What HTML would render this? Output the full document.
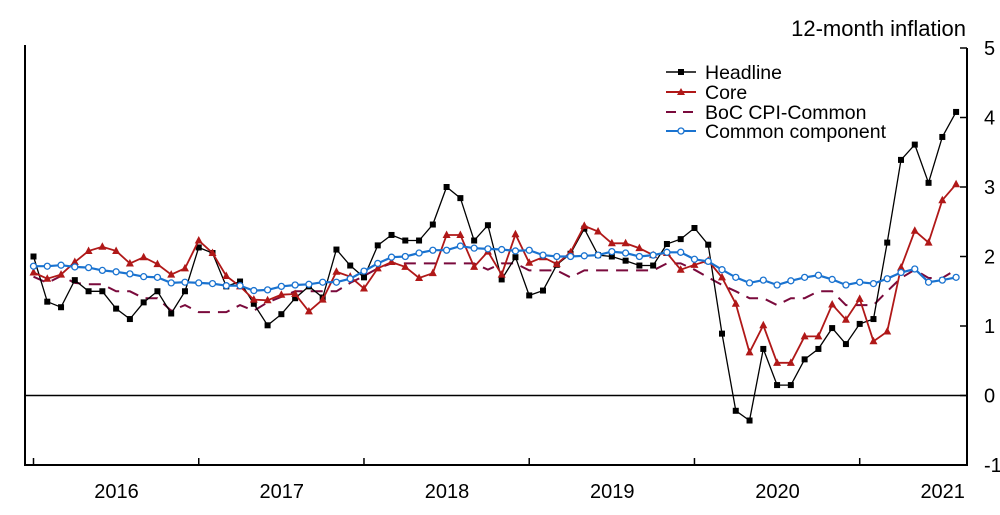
<!DOCTYPE html>
<html><head><meta charset="utf-8"><style>
html,body{margin:0;padding:0;background:#fff;}
svg{display:block;font-family:"Liberation Sans",Arial,sans-serif;}
</style></head><body>
<svg id="chart" width="1000" height="515" viewBox="0 0 1000 515" xmlns="http://www.w3.org/2000/svg">
<g id="axes"></g>
<g id="series"></g>
<text x="966" y="36" font-size="22" text-anchor="end">12-month inflation</text>
<g font-size="19.5">
 <g><line x1="666" y1="72" x2="696" y2="72" stroke="#000" stroke-width="1.5"/><rect x="678" y="69" width="6" height="6" fill="#000"/><text x="705" y="79">Headline</text></g>
 <g><line x1="666" y1="92" x2="696" y2="92" stroke="#b01818" stroke-width="2"/><polygon points="681,88 685,95 677,95" fill="#b01818"/><text x="705" y="99">Core</text></g>
 <g><line x1="666" y1="112" x2="696" y2="112" stroke="#7a0a3c" stroke-width="2" stroke-dasharray="10,7"/><text x="705" y="119">BoC CPI-Common</text></g>
 <g><line x1="666" y1="131" x2="696" y2="131" stroke="#1a73d0" stroke-width="2"/><circle cx="681" cy="131" r="3" fill="#fff" stroke="#1a73d0" stroke-width="1.3"/><text x="705" y="138">Common  component</text></g>
</g>
</svg>
<script>
const yearLabels = ["2016","2017","2018","2019","2020","2021"];
const yTicks = [-1,0,1,2,3,4,5];
const headline = [2.0,1.35,1.27,1.66,1.5,1.5,1.25,1.1,1.34,1.5,1.18,1.5,2.13,2.05,1.57,1.64,1.32,1.01,1.17,1.4,1.57,1.41,2.1,1.87,1.7,2.16,2.31,2.23,2.23,2.46,3.0,2.84,2.23,2.45,1.67,1.99,1.44,1.51,1.88,2.04,2.4,2.02,2.0,1.94,1.87,1.87,2.18,2.25,2.41,2.17,0.89,-0.22,-0.36,0.67,0.15,0.15,0.52,0.67,0.97,0.74,1.03,1.1,2.2,3.39,3.61,3.06,3.72,4.08];
const core = [1.77,1.68,1.74,1.92,2.08,2.14,2.08,1.9,1.99,1.89,1.74,1.83,2.23,2.05,1.72,1.57,1.38,1.37,1.45,1.46,1.21,1.38,1.78,1.71,1.54,1.83,1.92,1.85,1.69,1.76,2.31,2.31,1.85,2.07,1.74,2.32,1.91,1.99,1.89,2.06,2.44,2.36,2.19,2.19,2.12,2.02,2.05,1.81,1.88,1.94,1.7,1.32,0.62,1.01,0.47,0.47,0.85,0.85,1.31,1.09,1.39,0.78,0.92,1.84,2.37,2.2,2.81,3.04];
const bocCommon = [1.71,1.62,1.72,1.62,1.6,1.6,1.5,1.5,1.4,1.4,1.22,1.3,1.2,1.2,1.2,1.3,1.22,1.34,1.42,1.5,1.5,1.5,1.5,1.62,1.72,1.83,1.9,1.9,1.9,1.9,1.9,1.9,1.9,1.81,1.9,1.9,1.8,1.8,1.8,1.7,1.8,1.8,1.8,1.8,1.8,1.8,1.9,1.9,1.81,1.7,1.59,1.5,1.4,1.4,1.3,1.4,1.4,1.5,1.5,1.3,1.3,1.3,1.5,1.69,1.81,1.69,1.69,1.81];
const commonComp = [1.86,1.86,1.875,1.85,1.84,1.8,1.78,1.75,1.71,1.7,1.62,1.63,1.62,1.61,1.58,1.58,1.51,1.52,1.57,1.59,1.6,1.63,1.63,1.68,1.79,1.9,1.99,2.0,2.05,2.09,2.09,2.15,2.12,2.11,2.1,2.08,2.09,2.02,2.0,2.0,2.01,2.02,2.07,2.05,2.0,2.02,2.06,2.06,1.96,1.93,1.81,1.7,1.62,1.66,1.59,1.65,1.7,1.73,1.67,1.59,1.63,1.61,1.68,1.77,1.82,1.63,1.66,1.7];

const NS="http://www.w3.org/2000/svg";
const L=25,R=967,T=48,B=465,yMin=-1,yMax=5;
const x0=33.5,step=13.77;
function xs(i){return x0+i*step;}
function ys(v){return B-(v-yMin)/(yMax-yMin)*(B-T);}
function mk(tag,attrs,parent){const e=document.createElementNS(NS,tag);for(const k in attrs)e.setAttribute(k,attrs[k]);parent.appendChild(e);return e;}
const axes=document.getElementById('axes'), ser=document.getElementById('series');

let e;
e=mk('line',{x1:L,y1:T-3,x2:L,y2:B,stroke:'#000','stroke-width':2},axes);


e=mk('line',{x1:R,y1:T,x2:R,y2:B,stroke:'#000','stroke-width':2},axes);


e=mk('line',{x1:L-1,y1:B,x2:R+1,y2:B,stroke:'#000','stroke-width':2},axes);


e=mk('line',{x1:L,y1:ys(0),x2:R,y2:ys(0),stroke:'#000','stroke-width':1.5},axes);


yTicks.forEach(v=>{
  e=mk('line',{x1:R-7,y1:ys(v),x2:R,y2:ys(v),stroke:'#000','stroke-width':1.5},axes);
  
  
  e=mk('text',{x:R+17,y:ys(v)+7,'font-size':20},axes);
  e.textContent=String(v);
  
  
});
yearLabels.forEach((lab,k)=>{
  const tx=xs(k*12);
  e=mk('line',{x1:tx,y1:B-7,x2:tx,y2:B,stroke:'#000','stroke-width':1.5},axes);
  
  
  e=mk('text',{x:tx+83,y:B+33,'font-size':20,'text-anchor':'middle'},axes);
  e.textContent=lab;
  
  
});
function pts(arr){return arr.map((v,i)=>xs(i).toFixed(1)+','+ys(v).toFixed(1)).join(' ');}

e=mk('polyline',{points:pts(bocCommon),fill:'none',stroke:'#7a0a3c','stroke-width':2,'stroke-dasharray':'12,8'},ser);


e=mk('polyline',{points:pts(headline),fill:'none',stroke:'#000','stroke-width':1.3},ser);


headline.forEach((v,i)=>{
  const m=mk('rect',{x:xs(i)-3,y:ys(v)-3,width:6,height:6,fill:'#000'},ser);
  
  
});
e=mk('polyline',{points:pts(core),fill:'none',stroke:'#b01818','stroke-width':1.8},ser);


core.forEach((v,i)=>{
  const cx=xs(i),cy=ys(v);
  const m=mk('polygon',{points:`${cx},${cy-4.5} ${cx+4},${cy+3} ${cx-4},${cy+3}`,fill:'#b01818'},ser);
  
  
});
e=mk('polyline',{points:pts(commonComp),fill:'none',stroke:'#1a73d0','stroke-width':2.2},ser);


commonComp.forEach((v,i)=>{
  const m=mk('circle',{cx:xs(i),cy:ys(v),r:3,fill:'#fff',stroke:'#1a73d0','stroke-width':1.3},ser);
  
  
});
</script>
</body></html>
